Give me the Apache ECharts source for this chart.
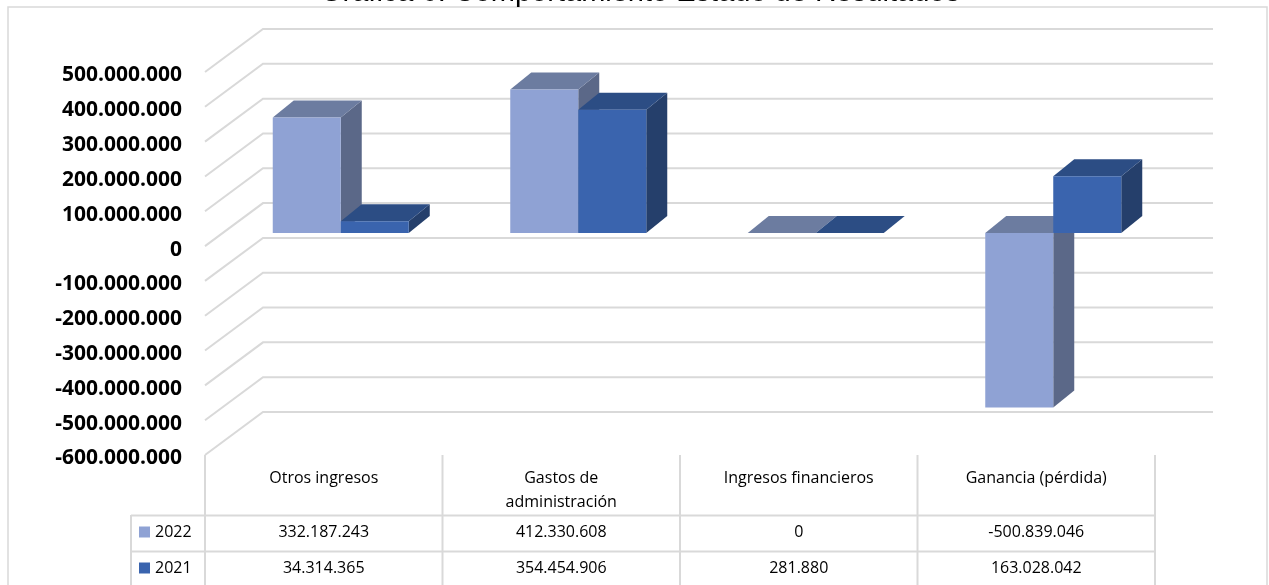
<!DOCTYPE html>
<html>
<head>
<meta charset="utf-8">
<script src="https://cdn.jsdelivr.net/npm/echarts@6/dist/echarts.min.js"></script>
<style>
  html, body { margin: 0; padding: 0; background: #fff; }
  #chart { width: 1269px; height: 585px; }
</style>
</head>
<body>
<div id="chart"></div>
<script>
// datos
const categories = ["Otros ingresos", "Gastos de\nadministración", "Ingresos financieros", "Ganancia (pérdida)"];
const seriesNames = ["2022", "2021"];
const values2022 = [332187243, 412330608, 0, -500839046];
const values2021 = [34314365, 354454906, 281880, 163028042];
const yTicks = [500000000, 400000000, 300000000, 200000000, 100000000, 0,
  -100000000, -200000000, -300000000, -400000000, -500000000, -600000000];

// efecto 3D (pixeles)
const DEPTH = [58, -43];      // profundidad de la pared
const BAR_SHIFT = [17, -13];  // plano frontal de las barras
const BAR_DEPTH = [21, -17];
const BAR_W = 68;
const GRID = { left: 205, top: 72, width: 950, height: 383 };

const faces2022 = { front: "#8FA2D4", top: "#6C7CA0", side: "#5B6888" };
const faces2021 = { front: "#3A64AE", top: "#2C4D84", side: "#253F6B" };

function fmt(v) {
  const s = String(Math.abs(v)).replace(/\B(?=(\d{3})+(?!\d))/g, ".");
  return v < 0 ? "-" + s : s;
}

function barRenderer(faces, slot) {
  return function (params, api) {
    const i = api.value(0);
    const v = api.value(1);
    const c = api.coord([i, 0]);
    const t = api.coord([i, v]);
    const x0 = c[0] + BAR_SHIFT[0] - BAR_W + slot * BAR_W;
    const x1 = x0 + BAR_W;
    const yTop = Math.min(c[1], t[1]) + BAR_SHIFT[1];
    const yBot = Math.max(c[1], t[1]) + BAR_SHIFT[1];
    const dx = BAR_DEPTH[0], dy = BAR_DEPTH[1];
    return {
      type: "group",
      children: [
        { type: "polygon", shape: { points: [[x1, yTop], [x1 + dx, yTop + dy], [x1 + dx, yBot + dy], [x1, yBot]] }, style: { fill: faces.side } },
        { type: "polygon", shape: { points: [[x0, yTop], [x1, yTop], [x1 + dx, yTop + dy], [x0 + dx, yTop + dy]] }, style: { fill: faces.top } },
        { type: "rect", shape: { x: x0, y: yTop, width: BAR_W, height: yBot - yTop }, style: { fill: faces.front } },
      ],
    };
  };
}

const lineColor = "#D9D9D9";
const tableFont = "'Open Sans', sans-serif";
const colX = [205, 442.5, 680, 917.5, 1155];

const graphic = [
  { type: "rect", shape: { x: 8, y: 7, width: 1259, height: 600 }, style: { fill: null, stroke: lineColor, lineWidth: 1.5 }, silent: true },
  {
    type: "text", x: 640, y: -7,
    style: { text: "Gráfica 6. Comportamiento Estado de Resultados", font: "29px 'Liberation Sans', Arial, sans-serif", fill: "#000", align: "center", verticalAlign: "middle" },
  },
];
colX.forEach((x) => {
  graphic.push({ type: "line", shape: { x1: x, y1: 455, x2: x, y2: 585 }, style: { stroke: lineColor, lineWidth: 2 }, silent: true });
});
[515.5, 551.5].forEach((y) => {
  graphic.push({ type: "line", shape: { x1: 131, y1: y, x2: 1155, y2: y }, style: { stroke: lineColor, lineWidth: 2 }, silent: true });
});
graphic.push({ type: "line", shape: { x1: 131, y1: 515, x2: 131, y2: 585 }, style: { stroke: lineColor, lineWidth: 2 }, silent: true });
[faces2022.front, faces2021.front].forEach((col, k) => {
  const cy = 532 + k * 36;
  graphic.push({ type: "rect", shape: { x: 139, y: cy - 5.5, width: 11, height: 11 }, style: { fill: col } });
  graphic.push({ type: "text", x: 155, y: cy, style: { text: seriesNames[k], font: "16px " + tableFont, fill: "#000", verticalAlign: "middle" } });
});

function rowAxis(labels, margin) {
  return {
    type: "category",
    position: "bottom",
    data: labels,
    axisLine: { show: false },
    axisTick: { show: false },
    splitLine: { show: false },
    axisLabel: {
      interval: 0, margin: margin, verticalAlign: "middle",
      fontFamily: "Open Sans", fontSize: 16, color: "#000",
    },
  };
}

const chart = echarts.init(document.getElementById("chart"));
chart.setOption({
  animation: false,
  backgroundColor: "#fff",
  graphic: graphic,
  grid: Object.assign({ outerBoundsMode: "none", containLabel: false }, GRID),
  xAxis: [
    {
      type: "category",
      position: "bottom",
      data: categories,
      axisLine: { show: false },
      axisTick: { show: false },
      splitLine: { show: false },
      axisLabel: {
        interval: 0, margin: 11, verticalAlign: "top", lineHeight: 24,
        fontFamily: "Open Sans", fontSize: 16, color: "#000",
      },
    },
    rowAxis(values2022.map(fmt), 77),
    rowAxis(values2021.map(fmt), 113),
  ],
  yAxis: {
    type: "value",
    min: -600000000,
    max: 500000000,
    interval: 100000000,
    axisLine: { show: false },
    axisTick: { show: false },
    splitLine: { show: false },
    axisLabel: {
      margin: 23,
      verticalAlign: "top",
      lineHeight: 7,
      fontFamily: "Open Sans", fontWeight: "bold", fontSize: 21, color: "#000",
      formatter: fmt,
    },
  },
  series: [
    {
      name: "grid3d",
      type: "custom",
      silent: true,
      data: yTicks.map((v) => [0, v]),
      renderItem: function (params, api) {
        const y = api.coord([0, api.value(1)])[1];
        const cs = params.coordSys;
        return {
          type: "polyline",
          shape: { points: [[cs.x, y], [cs.x + DEPTH[0], y + DEPTH[1]], [cs.x + cs.width + DEPTH[0], y + DEPTH[1]]] },
          style: { stroke: lineColor, lineWidth: 2, fill: null },
        };
      },
    },
    {
      name: seriesNames[0],
      type: "custom",
      data: values2022.map((v, i) => [i, v]),
      renderItem: barRenderer(faces2022, 0),
    },
    {
      name: seriesNames[1],
      type: "custom",
      data: values2021.map((v, i) => [i, v]),
      renderItem: barRenderer(faces2021, 1),
    },
  ],
});
</script>
</body>
</html>
